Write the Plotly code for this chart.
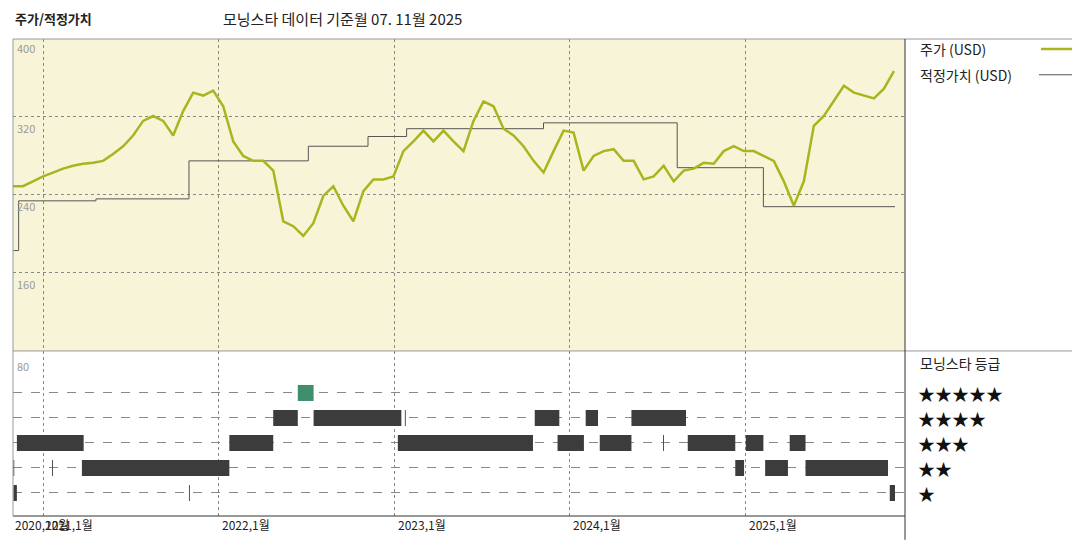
import plotly.graph_objects as go
import pandas as pd
import datetime as dt

# ---- data ----
price_start = "2020-10-30"
price_end = "2025-11-05"
price = [249,249,254,259,263,267,270,272,273,275,282,290,301,316,321,316,301,326,345,342,347,331,295,280,275,275,265,213,208,198,211,239,249,229,213,244,256,256,259,285,295,306,295,306,295,285,316,336,331,308,301,290,275,263,285,306,304,265,280,285,287,275,275,256,259,270,254,265,267,273,272,285,290,285,285,280,275,254,229,254,311,321,336,352,345,342,339,349,367]

fv_years = [2020.83,2020.86,2021.30,2021.83,2022.51,2022.85,2023.07,2023.85,2024.61,2025.10,2025.85]
fv_vals  = [183,234,236,275,290,300,308,314,268,228,228]

rating_segments = {
    5: [(2022.45,2022.54)],
    4: [(2022.31,2022.45),(2022.54,2023.04),(2023.06,2023.065),(2023.80,2023.94),(2024.09,2024.16),(2024.35,2024.66)],
    3: [(2020.85,2021.23),(2022.06,2022.31),(2023.02,2023.79),(2023.93,2024.08),(2024.17,2024.35),(2024.53,2024.535),(2024.67,2024.94),(2025.00,2025.10),(2025.25,2025.34)],
    2: [(2020.83,2020.835),(2021.05,2021.055),(2021.22,2022.06),(2024.94,2024.99),(2025.11,2025.24),(2025.34,2025.81)],
    1: [(2020.83,2020.85),(2021.83,2021.835),(2025.82,2025.85)],
}
year_labels = ["2020,12월","2021,1월","2022,1월","2023,1월","2024,1월","2025,1월"]

def ydate(y):
    yr = int(y)
    start = dt.datetime(yr,1,1)
    return start + (dt.datetime(yr+1,1,1)-start)*(y-yr)

dates = pd.date_range(price_start, price_end, periods=len(price))

fig = go.Figure()
fig.add_trace(go.Scatter(x=[ydate(y) for y in fv_years], y=fv_vals, mode="lines", line_shape="hv",
                         line=dict(color="#555555", width=1), xaxis="x", yaxis="y"))
fig.add_trace(go.Scatter(x=dates, y=price, mode="lines", line=dict(color="#a9b51f", width=2.5), xaxis="x", yaxis="y"))

for r, segs in rating_segments.items():
    xs, ys = [], []
    for a, b in segs:
        xs += [ydate(a), ydate(b), None]; ys += [r, r, None]
    col = "#3f8f6a" if r == 5 else "#3c3c3c"
    fig.add_trace(go.Scatter(x=xs, y=ys, mode="lines", line=dict(color=col, width=16),
                             xaxis="x2", yaxis="y2"))

xr = [dt.datetime(2020,10,30), dt.datetime(2025,11,28)]
ticks = [dt.datetime(y,1,1) for y in range(2021,2026)]
common = dict(range=xr, type="date", tickvals=ticks, showticklabels=False, showgrid=True,
              gridcolor="#888", griddash="dot", gridwidth=1, zeroline=False)
fig.update_layout(
    width=1080, height=540, margin=dict(l=5, r=183, t=31, b=32),
    paper_bgcolor="white", plot_bgcolor="white", showlegend=False,
    font=dict(family="Noto Sans CJK KR", color="#222"),
    xaxis=dict(**common, anchor="y"),
    xaxis2=dict(**common, anchor="y2", matches="x"),
    yaxis=dict(domain=[0.346,1], range=[80,400], tickvals=[160,240,320], showticklabels=False,
               gridcolor="#888", griddash="dot", zeroline=False),
    yaxis2=dict(domain=[0,0.346], range=[0.08,6.68], tickvals=[1,2,3,4,5], showticklabels=False,
                gridcolor="#888", griddash="dash", zeroline=False),
)
shapes = [
    dict(type="rect", xref="paper", yref="paper", x0=0, x1=1, y0=0.346, y1=1, fillcolor="#f8f4d8",
         line_width=0, layer="below"),
    dict(type="line", xref="paper", yref="paper", x0=0, x1=1.205, y0=1, y1=1, line=dict(color="#999", width=1)),
    dict(type="line", xref="paper", yref="paper", x0=0, x1=1.205, y0=0.346, y1=0.346, line=dict(color="#999", width=1)),
    dict(type="line", xref="paper", yref="paper", x0=0, x1=1, y0=0, y1=0, line=dict(color="#333", width=1)),
    dict(type="line", xref="paper", yref="paper", x0=0, x1=0, y0=0, y1=1, line=dict(color="#999", width=1)),
    dict(type="line", xref="paper", yref="paper", x0=1, x1=1, y0=-0.05, y1=1, line=dict(color="#333", width=1)),
    dict(type="line", xref="paper", yref="paper", x0=1.1524, x1=1.1883, y0=0.979, y1=0.979, line=dict(color="#a9b51f", width=2.5)),
    dict(type="line", xref="paper", yref="paper", x0=1.1502, x1=1.1883, y0=0.925, y1=0.925, line=dict(color="#555", width=1)),
]
fig.update_layout(shapes=shapes)

ann = []
def A(x, y, t, size=12, color="#222", xa="left", ya="middle", xref="paper"):
    ann.append(dict(x=x, y=y, xref=xref, yref="paper", text=t, showarrow=False,
                    font=dict(size=size, color=color), xanchor=xa, yanchor=ya))
def px(xp): return (xp-5)/892
def py(yp): return (515-yp)/477
A(px(5), py(18), "<b>주가/적정가치</b>", 13, xa="left")
A(px(213), py(18), "모닝스타 데이터 기준월 07. 11월 2025", 15)
for v, yp in [("400",47),("320",127),("240",205),("160",283),("80",365)]:
    A(px(7), py(yp), v, 11, "#999")
A(px(910), py(48), "주가 (USD)", 14)
A(px(910), py(74), "적정가치 (USD)", 14)
A(px(910), py(362), "모닝스타 등급", 14)
for i, yp in enumerate([392,417,442,467,492]):
    A(px(908), py(yp), "★"*(5-i), 17, "#111")
for lab, xp in zip(year_labels, [5,35,212,388,563,739]):
    A(px(xp), py(523), lab, 12, "#222")
fig.update_layout(annotations=ann)
fig.write_html("out.html")
